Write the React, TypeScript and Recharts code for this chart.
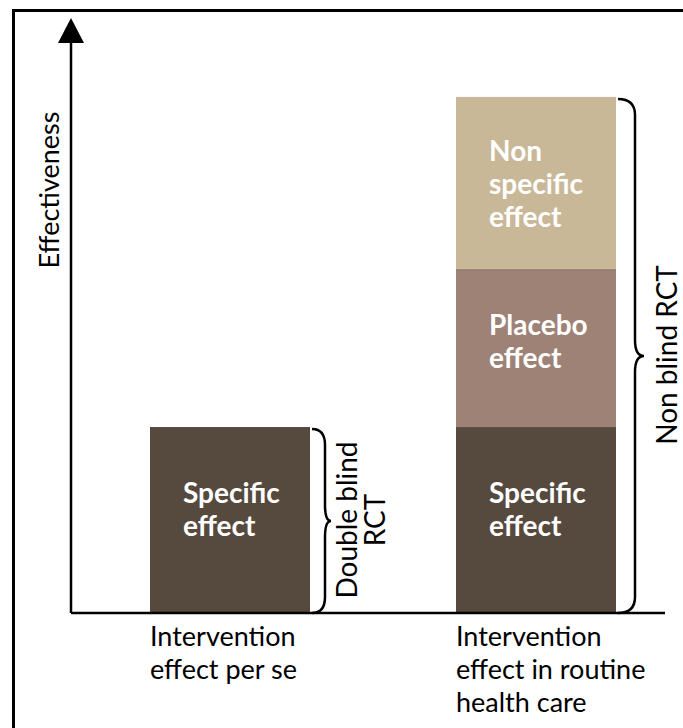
import { BarChart, Bar, XAxis, YAxis, Label } from 'recharts';

// x categories (one line per array entry)
const categories = [
  ['Intervention', 'effect per se'],
  ['Intervention', 'effect in routine', 'health care'],
];
// effectiveness, relative to the specific effect
const specific = [1, 1];
const placebo = [0, 0.85];
const nonSpecific = [0, 0.925];
const yMax = 3.065;

const seriesKeys = ['specific', 'placebo', 'nonSpecific'];
const seriesColors = ['#56493e', '#9e8276', '#c8b897'];
const seriesText = [
  ['Specific', 'effect'],
  ['Placebo', 'effect'],
  ['Non', 'specific', 'effect'],
];
const textShift = [-11, -6, 1];
const braceText = [['Double blind', 'RCT'], ['Non blind RCT']];

const data = categories.map((lines, i) => ({
  name: lines.join('\n'),
  idx: i,
  specific: specific[i],
  placebo: placebo[i],
  nonSpecific: nonSpecific[i],
}));

const FONT = 'Lato, "Open Sans", sans-serif';

function bracePath(x0: number, top: number, base: number, body: number, cusp: number) {
  const mid = (top + base) / 2;
  const r = 16;
  const r2 = 16;
  return [
    `M${x0},${top}`,
    `Q${x0 + body},${top} ${x0 + body},${top + r}`,
    `L${x0 + body},${mid - r2}`,
    `Q${x0 + body},${mid} ${x0 + cusp},${mid}`,
    `Q${x0 + body},${mid} ${x0 + body},${mid + r2}`,
    `L${x0 + body},${base - r}`,
    `Q${x0 + body},${base} ${x0},${base}`,
  ].join(' ');
}

const makeShape = (k: number) => (props: any) => {
  const { x, y, width, height, payload, background } = props;
  if (!height || height <= 0) return <g />;
  const lines = seriesText[k];
  const lh = 33;
  const cy = y + height / 2 + textShift[k];
  const startY = cy - ((lines.length - 1) * lh) / 2 + 10;
  // top non-zero segment draws the brace for the whole stack
  let topK = 0;
  seriesKeys.forEach((key, j) => {
    if (payload[key] > 0) topK = j;
  });
  const base = background ? background.y + background.height : y + height;
  const i = payload.idx;
  const x0 = x + width;
  const tall = base - y > 300;
  const brace = braceText[i];
  const bx = x0 + 50;
  const mid = (y + base) / 2;
  return (
    <g>
      <rect x={x} y={y} width={width} height={height} fill={seriesColors[k]} />
      <text fill="#fff" fontFamily={FONT} fontWeight={700} fontSize={28}>
        {lines.map((l, j) => (
          <tspan key={j} x={x + 33} y={startY + j * lh}>
            {l}
          </tspan>
        ))}
      </text>
      {k === topK && (
        <g>
          <path
            d={bracePath(x0 + 2, y + 2, base, tall ? 17 : 13, tall ? 26 : 19)}
            fill="none"
            stroke="#000"
            strokeWidth={2.5}
          />
          {brace.map((l, j) => {
            const lx = bx + (j - (brace.length - 1) / 2) * 28;
            return (
              <text
                key={j}
                x={lx}
                y={mid}
                transform={`rotate(-90, ${lx}, ${mid})`}
                textAnchor="middle"
                dominantBaseline="central"
                fontFamily={FONT}
                fontSize={28}
                fill="#000"
              >
                {l}
              </text>
            );
          })}
        </g>
      )}
    </g>
  );
};

const CategoryTick = (props: any) => {
  const { x, y, payload } = props;
  const lines = String(payload.value).split('\n');
  return (
    <text fontFamily={FONT} fontSize={27} fill="#000">
      {lines.map((l, j) => (
        <tspan key={j} x={x - 80} y={y + 33 + j * 33}>
          {l}
        </tspan>
      ))}
    </text>
  );
};

const AxisDecor = (props: any) => {
  const { viewBox } = props;
  const ax = viewBox.x + viewBox.width;
  const top = viewBox.y;
  const ly = top + 147;
  return (
    <g>
      <polygon points={`${ax - 13},${top} ${ax + 13},${top} ${ax},${top - 25}`} fill="#000" />
      <text
        x={ax - 23}
        y={ly}
        transform={`rotate(-90, ${ax - 23}, ${ly})`}
        textAnchor="middle"
        dominantBaseline="central"
        fontFamily={FONT}
        fontSize={27}
        fill="#000"
      >
        Effectiveness
      </text>
    </g>
  );
};

export default function App() {
  return (
    <div style={{ position: 'absolute', left: 0, top: 0, width: 683, height: 728, background: '#fff', overflow: 'hidden' }}>
      <div
        style={{
          position: 'absolute',
          left: 12,
          top: 9,
          width: 700,
          height: 740,
          borderLeft: '3px solid #000',
          borderTop: '3px solid #000',
        }}
      />
      <BarChart
        width={683}
        height={728}
        data={data}
        margin={{ top: 43, right: 18, bottom: 85, left: 0 }}
        style={{ position: 'absolute', left: 0, top: 0 }}
      >
        <XAxis
          dataKey="name"
          height={30}
          axisLine={{ stroke: '#000', strokeWidth: 2.5 }}
          tickLine={false}
          tickSize={0}
          tickMargin={0}
          padding={{ left: 6, right: -24 }}
          tick={<CategoryTick />}
          interval={0}
        />
        <YAxis
          width={71}
          domain={[0, yMax]}
          tick={false}
          tickLine={false}
          axisLine={{ stroke: '#000', strokeWidth: 2.5 }}
        >
          <Label content={<AxisDecor />} />
        </YAxis>
        {seriesKeys.map((key, k) => (
          <Bar
            key={key}
            dataKey={key}
            stackId="a"
            fill={seriesColors[k]}
            barSize={160}
            isAnimationActive={false}
            shape={makeShape(k)}
          />
        ))}
      </BarChart>
    </div>
  );
}
